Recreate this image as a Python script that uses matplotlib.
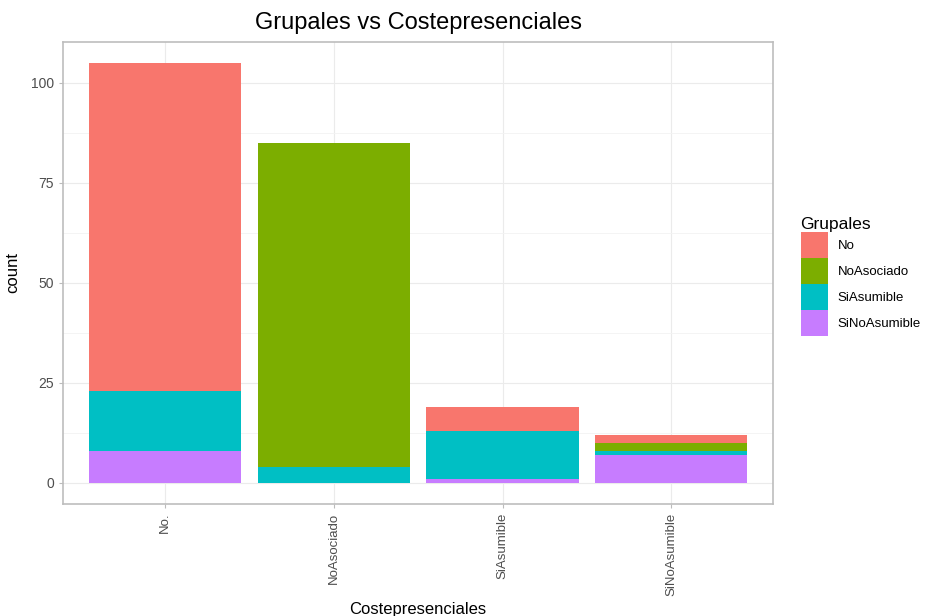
import numpy as np
import matplotlib.pyplot as plt
from matplotlib.patches import Patch

plt.rcParams['font.family'] = ['Liberation Sans', 'DejaVu Sans']

categories = ["No.", "NoAsociado", "SiAsumible", "SiNoAsumible"]
groups = ["No", "NoAsociado", "SiAsumible", "SiNoAsumible"]
colors = ["#F8766D", "#7CAE00", "#00BFC4", "#C77CFF"]

# counts per Grupales level, for each Costepresenciales category
no_vals = [82, 0, 6, 2]
noasociado_vals = [0, 81, 0, 2]
siasumible_vals = [15, 4, 12, 1]
sinoasumible_vals = [8, 0, 1, 7]

fig = plt.figure(figsize=(9.3, 6.16), dpi=100)
ax = fig.add_axes([0.068, 0.182, 0.763, 0.750])

x = np.arange(1, len(categories) + 1)
# stack from bottom: SiNoAsumible, SiAsumible, NoAsociado, No
stack = [(sinoasumible_vals, colors[3]), (siasumible_vals, colors[2]),
         (noasociado_vals, colors[1]), (no_vals, colors[0])]
bottom = np.zeros(len(categories))
for vals, col in stack:
    ax.bar(x, vals, width=0.9, bottom=bottom, color=col, zorder=3)
    bottom += np.array(vals)

ax.set_xlim(0.4, 4.6)
ax.set_ylim(-5.25, 110.25)
ax.set_yticks([0, 25, 50, 75, 100])
ax.set_yticks([12.5, 37.5, 62.5, 87.5], minor=True)
ax.set_xticks(x)
ax.set_xticklabels(categories, rotation=90, color="#4d4d4d", fontsize=9.5)
ax.tick_params(axis="y", colors="#4d4d4d", labelsize=10, length=3, color="#bbbbbb")
ax.tick_params(axis="x", length=3, color="#bbbbbb")
ax.tick_params(which="minor", length=0)
ax.grid(True, which="major", color="#ebebeb", linewidth=0.8, zorder=0)
ax.grid(True, which="minor", axis="y", color="#f3f3f3", linewidth=0.6, zorder=0)
for s in ax.spines.values():
    s.set_color("#bdbdbd")
    s.set_linewidth(1.2)

ax.set_xlabel("Costepresenciales", fontsize=12, labelpad=4)
ax.set_ylabel("count", fontsize=12, labelpad=8)
fig.suptitle("Grupales vs Costepresenciales", x=0.45, y=0.98, fontsize=17)

handles = [Patch(facecolor=c, label=g) for c, g in zip(colors, groups)]
leg = fig.legend(handles=handles, title="Grupales", loc="upper left",
                 bbox_to_anchor=(0.848, 0.667), frameon=False, fontsize=9.5,
                 title_fontsize=12.5, handlelength=2.1, handleheight=2.65,
                 handletextpad=0.7, labelspacing=0.0)
leg._legend_box.align = "left"

fig.savefig("out.png", dpi=100)
